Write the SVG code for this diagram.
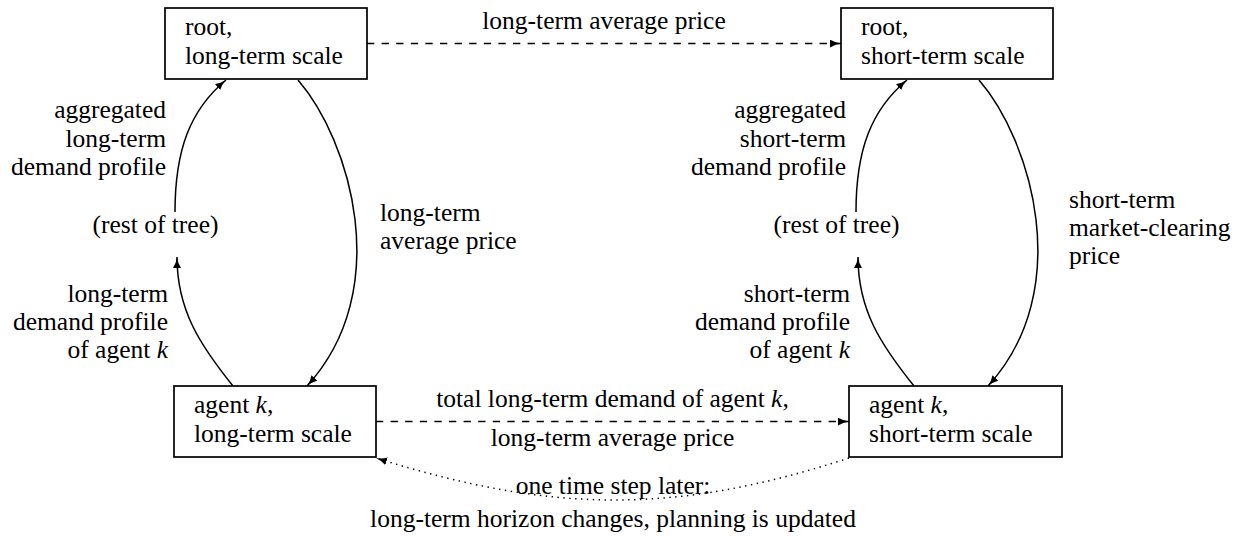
<svg xmlns="http://www.w3.org/2000/svg" width="1238" height="538" viewBox="0 0 1238 538">
<style>
text{font-family:"Liberation Serif",Tinos,"Times New Roman","Noto Serif","DejaVu Serif",serif;font-size:25.5px;fill:#000}
.box{fill:#fff;stroke:#000;stroke-width:1.7}
.edge{fill:none;stroke:#000;stroke-width:1.5}
.dash{stroke-dasharray:7.3 7.3}
.dot{stroke-dasharray:1.4 4.5}
.r{text-anchor:end}
.m{text-anchor:middle}
.k{font-style:italic}
</style>
<defs>
<marker id="arr" viewBox="0 0 11 8" refX="11" refY="4" markerWidth="11" markerHeight="8" markerUnits="userSpaceOnUse" orient="auto">
<path d="M0,0 Q5,3.2 11,4 Q5,4.8 0,8 z" fill="#000"/>
</marker>
</defs>

<!-- connectors -->
<g id="connectors">
<path class="edge dash" d="M367,43.5 H841" marker-end="url(#arr)"/>
<path class="edge dash" d="M376,421.5 H849" marker-end="url(#arr)"/>
<path class="edge" d="M175,212 C175,150 190,110 226,80" marker-end="url(#arr)"/>
<path class="edge" d="M233,386 C200,345 177,310 177,257" marker-end="url(#arr)"/>
<path class="edge" d="M298,80 C350,140 395,290 307,386" marker-end="url(#arr)"/>
<path class="edge" d="M856,212 C856,150 871,110 907,80" marker-end="url(#arr)"/>
<path class="edge" d="M914,386 C881,345 858,310 858,257" marker-end="url(#arr)"/>
<path class="edge" d="M979,80 C1031,140 1076,290 988,386" marker-end="url(#arr)"/>
<path class="edge dot" d="M849,458 C677,514 554,514 376,458" marker-end="url(#arr)"/>
</g>

<!-- nodes -->
<g id="root-long">
<rect class="box" x="165" y="8" width="202" height="71"/>
<text x="185" y="35">root,</text>
<text x="185" y="64">long-term scale</text>
</g>
<g id="root-short">
<rect class="box" x="841" y="8" width="212" height="71"/>
<text x="861" y="35">root,</text>
<text x="861" y="64">short-term scale</text>
</g>
<g id="agent-long">
<rect class="box" x="174" y="386" width="202" height="71"/>
<text x="194" y="413">agent <tspan class="k">k</tspan>,</text>
<text x="194" y="442">long-term scale</text>
</g>
<g id="agent-short">
<rect class="box" x="849" y="386" width="213" height="71"/>
<text x="869" y="413">agent <tspan class="k">k</tspan>,</text>
<text x="869" y="442">short-term scale</text>
</g>
<g id="rest-long">
<text class="m" x="155.5" y="233">(rest of tree)</text>
</g>
<g id="rest-short">
<text class="m" x="836.5" y="233">(rest of tree)</text>
</g>

<!-- edge labels -->
<g id="labels">
<text class="m" x="604" y="29">long-term average price</text>

<text class="r" x="166" y="118">aggregated</text>
<text class="r" x="166" y="147">long-term</text>
<text class="r" x="166" y="175">demand profile</text>

<text class="r" x="168" y="302">long-term</text>
<text class="r" x="168" y="330">demand profile</text>
<text class="r" x="168" y="358">of agent <tspan class="k">k</tspan></text>

<text x="380" y="221">long-term</text>
<text x="380" y="249">average price</text>

<text class="r" x="846" y="118">aggregated</text>
<text class="r" x="846" y="147">short-term</text>
<text class="r" x="846" y="175">demand profile</text>

<text class="r" x="850" y="302">short-term</text>
<text class="r" x="850" y="330">demand profile</text>
<text class="r" x="850" y="358">of agent <tspan class="k">k</tspan></text>

<text x="1069" y="208">short-term</text>
<text x="1069" y="236">market-clearing</text>
<text x="1069" y="264">price</text>

<text class="m" x="612.5" y="407">total long-term demand of agent <tspan class="k">k</tspan>,</text>
<text class="m" x="612.5" y="446">long-term average price</text>

<text class="m" x="613" y="494">one time step later:</text>
<text class="m" x="613" y="527">long-term horizon changes, planning is updated</text>
</g>
</svg>
